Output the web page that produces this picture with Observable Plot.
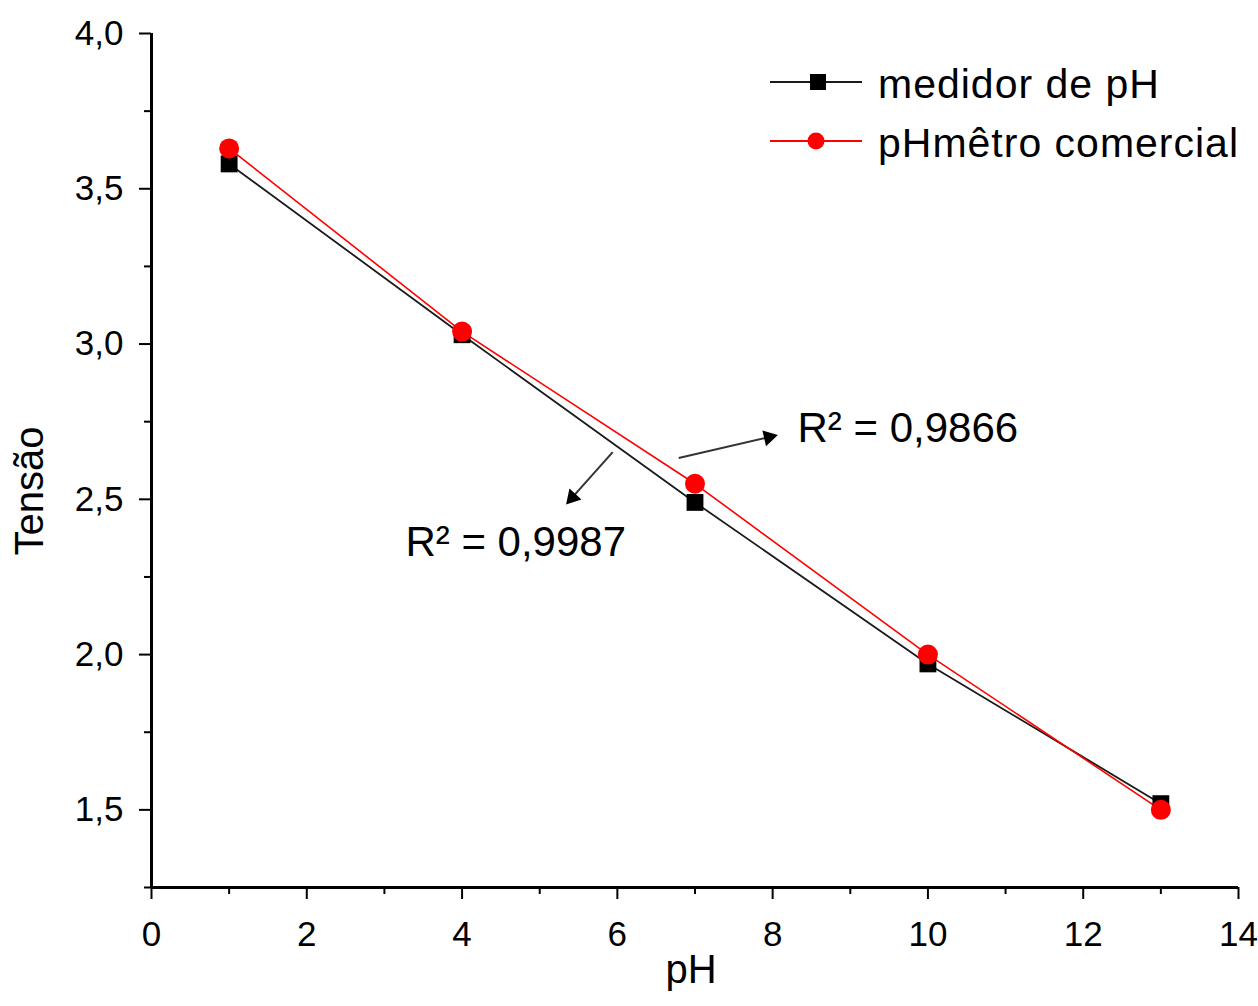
<!DOCTYPE html>
<html>
<head>
<meta charset="utf-8">
<script src="https://cdn.jsdelivr.net/npm/d3@7"></script>
<script src="https://cdn.jsdelivr.net/npm/@observablehq/plot@0.6"></script>
<style>
  html, body { margin: 0; padding: 0; background: #fff; }
  #wrap { position: relative; width: 1258px; height: 1006px; }
  #legend { position: absolute; left: 0; top: 0; pointer-events: none; }
</style>
</head>
<body>
<div id="wrap"></div>
<script>
// ---- data ----
const phValues = [1, 4, 7, 10, 13];
const medidorValues = [3.58, 3.03, 2.49, 1.97, 1.52];
const comercialValues = [3.63, 3.04, 2.55, 2.00, 1.50];
const seriesNames = ["medidor de pH", "pHmêtro comercial"];

const xMajorTicks = [0, 2, 4, 6, 8, 10, 12, 14];
const xMinorTicks = [1, 3, 5, 7, 9, 11, 13];
const yMajorTicks = [1.5, 2.0, 2.5, 3.0, 3.5, 4.0];
const yMinorTicks = [1.25, 1.75, 2.25, 2.75, 3.25, 3.75];

const r2Labels = ["R² = 0,9866", "R² = 0,9987"];
// annotation anchors (data units)
const labelX = [8.32, 3.27];
const labelY = [2.729, 2.362];
const arrowX1 = [6.79, 5.94];
const arrowY1 = [2.633, 2.652];
const arrowX2 = [7.95, 5.42];
const arrowY2 = [2.700, 2.506];
const arrowAngle = [77, 222];

// ---- tables ----
const medidor = phValues.map((x, i) => ({x, y: medidorValues[i]}));
const comercial = phValues.map((x, i) => ({x, y: comercialValues[i]}));
const labels = r2Labels.map((t, i) => ({t, x: labelX[i], y: labelY[i]}));
const arrows = r2Labels.map((t, i) => ({x1: arrowX1[i], y1: arrowY1[i], x2: arrowX2[i], y2: arrowY2[i], a: arrowAngle[i]}));

const fmtY = d => d.toFixed(1).replace(".", ",");
const FONT = "'Liberation Sans', Arial, Helvetica, sans-serif";

const chart = Plot.plot({
  width: 1258,
  height: 1006,
  marginLeft: 151,
  marginRight: 20,
  marginTop: 33,
  marginBottom: 119,
  x: {domain: [0, 14]},
  y: {domain: [1.25, 4.0]},
  style: {fontFamily: FONT, fontSize: "34px", color: "#000", background: "#fff", overflow: "visible"},
  marks: [
    // axes
    Plot.axisX(xMajorTicks, {tickSize: 12, tickPadding: 22, strokeWidth: 2, tickFormat: d => String(d), label: null, fontSize: 35}),
    Plot.axisX(xMinorTicks, {tickSize: 7, strokeWidth: 2, tickFormat: () => "", label: null}),
    Plot.axisY(yMajorTicks, {tickSize: 12, tickPadding: 16, strokeWidth: 2, tickFormat: fmtY, label: null, fontSize: 35}),
    Plot.axisY(yMinorTicks, {tickSize: 7, strokeWidth: 2, tickFormat: () => "", label: null}),
    Plot.ruleX([0], {stroke: "#000", strokeWidth: 3}),
    Plot.ruleY([1.25], {stroke: "#000", strokeWidth: 3}),
    // axis titles
    Plot.text(["pH"], {frameAnchor: "bottom", dx: -4, dy: 95, fontSize: 40, fill: "#000"}),
    Plot.text(["Tensão"], {frameAnchor: "left", rotate: -90, dx: -121, dy: 95, fontSize: 40, fill: "#000"}),
    // series
    Plot.line(medidor, {x: "x", y: "y", stroke: "#1a1a1a", strokeWidth: 1.8}),
    Plot.line(comercial, {x: "x", y: "y", stroke: "#ff0000", strokeWidth: 1.6}),
    Plot.dot(medidor, {x: "x", y: "y", symbol: "square", r: 9.5, fill: "#000", stroke: "none"}),
    Plot.dot(comercial, {x: "x", y: "y", symbol: "circle", r: 10, fill: "#ff0000", stroke: "none"}),
    // annotations
    Plot.link(arrows, {x1: "x1", y1: "y1", x2: "x2", y2: "y2", stroke: "#333", strokeWidth: 2}),
    Plot.dot(arrows, {x: "x2", y: "y2", symbol: "triangle", r: 6, rotate: "a", fill: "#000", stroke: "none"}),
    Plot.text(labels, {x: "x", y: "y", text: "t", textAnchor: "start", fontSize: 42, fill: "#000"})
  ]
});

const wrap = document.getElementById("wrap");
wrap.appendChild(chart);

// legend overlay (inside plot area, top right)
const leg = d3.select(wrap).append("svg")
  .attr("id", "legend")
  .attr("width", 1258).attr("height", 200)
  .style("font-family", FONT);
const rows = [
  {name: seriesNames[0], color: "#000", line: "#1a1a1a", sym: "square", y: 82},
  {name: seriesNames[1], color: "#ff0000", line: "#ff0000", sym: "circle", y: 141}
];
rows.forEach(r => {
  leg.append("line").attr("x1", 770).attr("x2", 862).attr("y1", r.y).attr("y2", r.y)
    .attr("stroke", r.line).attr("stroke-width", 2);
  if (r.sym === "square") {
    leg.append("rect").attr("x", 810).attr("y", r.y - 8).attr("width", 16).attr("height", 16).attr("fill", r.color);
  } else {
    leg.append("circle").attr("cx", 816).attr("cy", r.y).attr("r", 8.5).attr("fill", r.color);
  }
  leg.append("text").attr("x", 878).attr("y", r.y + 16).attr("font-size", 41)
    .attr("letter-spacing", "1px").attr("fill", "#000").text(r.name);
});
</script>
</body>
</html>
